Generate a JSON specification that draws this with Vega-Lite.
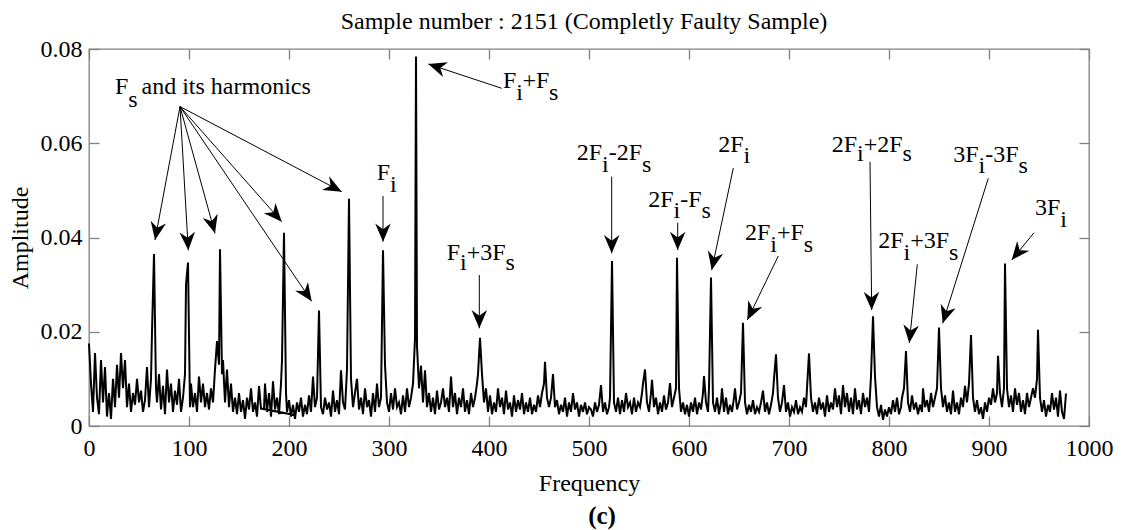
{
"$schema": "https://vega.github.io/schema/vega-lite/v6.json",
"width": 1000, "height": 377,
"autosize": "none",
"padding": {"left": 89, "top": 49, "right": 35, "bottom": 104},
"background": "white",
"config": {
  "font": "Liberation Serif",
  "view": {"stroke": "#808080", "strokeWidth": 1.3},
  "axis": {"grid": false, "domain": false, "tickColor": "#808080", "tickWidth": 1.3, "tickSize": -10,
           "labelFont": "Liberation Serif", "labelFontSize": 24, "labelColor": "black", "labelOverlap": false,
           "titleFont": "Liberation Serif", "titleFontSize": 24, "titleFontWeight": "normal", "titleColor": "black"}
},
"datasets": {
 "arrows": [
  {"x": 91, "y": 0.06778, "x2": 66, "y2": 0.03947},
  {"x": 91, "y": 0.06778, "x2": 99.3, "y2": 0.03729},
  {"x": 91, "y": 0.06778, "x2": 126, "y2": 0.04088},
  {"x": 91, "y": 0.06778, "x2": 192.7, "y2": 0.04336},
  {"x": 91, "y": 0.06778, "x2": 222.7, "y2": 0.02645},
  {"x": 91, "y": 0.06778, "x2": 252.7, "y2": 0.04973},
  {"x": 294, "y": 0.04881, "x2": 294, "y2": 0.03911},
  {"x": 412.7, "y": 0.07166, "x2": 339.3, "y2": 0.07682},
  {"x": 390.3, "y": 0.03204, "x2": 390.3, "y2": 0.02073},
  {"x": 522.7, "y": 0.0529, "x2": 522.7, "y2": 0.03665},
  {"x": 588.7, "y": 0.04315, "x2": 588.7, "y2": 0.03735},
  {"x": 644.3, "y": 0.05472, "x2": 622.7, "y2": 0.0331},
  {"x": 689.3, "y": 0.03608, "x2": 658.3, "y2": 0.02249},
  {"x": 781, "y": 0.05608, "x2": 782.7, "y2": 0.02461},
  {"x": 828.3, "y": 0.0343, "x2": 820.3, "y2": 0.01761},
  {"x": 899.3, "y": 0.05256, "x2": 853.7, "y2": 0.02179},
  {"x": 945, "y": 0.04102, "x2": 922.7, "y2": 0.03522}
 ],
 "labels": [
  {"x": 26, "y": 0.07054, "t": "F"}, {"x": 39.3, "y": 0.06763, "t": "s"}, {"x": 52.5, "y": 0.07054, "t": "and its harmonics"},
  {"x": 287.7, "y": 0.0522, "t": "F"}, {"x": 301, "y": 0.04972, "t": "i"},
  {"x": 414, "y": 0.07166, "t": "F"}, {"x": 427.3, "y": 0.06918, "t": "i"}, {"x": 433.5, "y": 0.07166, "t": "+F"}, {"x": 460, "y": 0.06918, "t": "s"},
  {"x": 357.7, "y": 0.03523, "t": "F"}, {"x": 371, "y": 0.0331, "t": "i"}, {"x": 377.7, "y": 0.03523, "t": "+3F"}, {"x": 416.5, "y": 0.0331, "t": "s"},
  {"x": 487.7, "y": 0.05645, "t": "2F"}, {"x": 513, "y": 0.05396, "t": "i"}, {"x": 519.7, "y": 0.05645, "t": "-2F"}, {"x": 553, "y": 0.05396, "t": "s"},
  {"x": 559.3, "y": 0.04654, "t": "2F"}, {"x": 584.6, "y": 0.04414, "t": "i"}, {"x": 591.3, "y": 0.04654, "t": "-F"}, {"x": 612.6, "y": 0.04414, "t": "s"},
  {"x": 629.3, "y": 0.05821, "t": "2F"}, {"x": 654.6, "y": 0.05575, "t": "i"},
  {"x": 656, "y": 0.03947, "t": "2F"}, {"x": 681.3, "y": 0.03699, "t": "i"}, {"x": 688, "y": 0.03947, "t": "+F"}, {"x": 714.8, "y": 0.03699, "t": "s"},
  {"x": 742.7, "y": 0.05821, "t": "2F"}, {"x": 768, "y": 0.05623, "t": "i"}, {"x": 774.7, "y": 0.05821, "t": "+2F"}, {"x": 813.5, "y": 0.05623, "t": "s"},
  {"x": 789.3, "y": 0.03771, "t": "2F"}, {"x": 814.6, "y": 0.03523, "t": "i"}, {"x": 821.3, "y": 0.03771, "t": "+3F"}, {"x": 860, "y": 0.03523, "t": "s"},
  {"x": 864.3, "y": 0.05609, "t": "3F"}, {"x": 889.6, "y": 0.05362, "t": "i"}, {"x": 896.3, "y": 0.05609, "t": "-3F"}, {"x": 929.6, "y": 0.05362, "t": "s"},
  {"x": 946, "y": 0.04477, "t": "3F"}, {"x": 971.3, "y": 0.04229, "t": "i"}
 ]
},
"layer": [
 {
  "data": {"values": [
{"f":0,"a":0.0175},{"f":2,"a":0.009},{"f":4,"a":0.003},{"f":6,"a":0.0155},{"f":8,"a":0.006},{"f":10,"a":0.0025},{"f":12,"a":0.014},{"f":14,"a":0.005},{"f":16,"a":0.0125},{"f":18,"a":0.002},
{"f":20,"a":0.007},{"f":22,"a":0.0015},{"f":24,"a":0.010},{"f":26,"a":0.004},{"f":28,"a":0.013},{"f":30,"a":0.006},{"f":32,"a":0.0155},{"f":34,"a":0.008},{"f":36,"a":0.014},{"f":38,"a":0.004},
{"f":40,"a":0.009},{"f":42,"a":0.003},{"f":44,"a":0.007},{"f":46,"a":0.0045},{"f":48,"a":0.010},{"f":50,"a":0.005},{"f":52,"a":0.0075},{"f":54,"a":0.003},{"f":56,"a":0.0055},{"f":58,"a":0.0125},
{"f":60,"a":0.004},{"f":62,"a":0.010},{"f":63,"a":0.020},{"f":65,"a":0.0365},{"f":67,"a":0.008},{"f":68,"a":0.005},{"f":70,"a":0.011},{"f":72,"a":0.0035},{"f":74,"a":0.0085},{"f":76,"a":0.0025},
{"f":78,"a":0.012},{"f":80,"a":0.005},{"f":82,"a":0.009},{"f":84,"a":0.003},{"f":86,"a":0.0075},{"f":88,"a":0.0045},{"f":90,"a":0.010},{"f":92,"a":0.003},{"f":94,"a":0.006},{"f":96,"a":0.011},
{"f":97,"a":0.030},{"f":99,"a":0.0347},{"f":101,"a":0.004},{"f":102,"a":0.009},{"f":104,"a":0.004},{"f":106,"a":0.007},{"f":108,"a":0.003},{"f":110,"a":0.0105},{"f":112,"a":0.005},{"f":114,"a":0.009},
{"f":116,"a":0.004},{"f":118,"a":0.007},{"f":120,"a":0.0035},{"f":122,"a":0.008},{"f":124,"a":0.005},{"f":126,"a":0.012},{"f":128,"a":0.018},{"f":130,"a":0.013},{"f":131,"a":0.0375},{"f":133,"a":0.011},
{"f":134,"a":0.014},{"f":136,"a":0.005},{"f":138,"a":0.012},{"f":140,"a":0.004},{"f":142,"a":0.009},{"f":144,"a":0.003},{"f":146,"a":0.006},{"f":148,"a":0.0025},{"f":150,"a":0.007},{"f":152,"a":0.003},
{"f":154,"a":0.0055},{"f":156,"a":0.0015},{"f":158,"a":0.006},{"f":160,"a":0.0035},{"f":162,"a":0.008},{"f":164,"a":0.003},{"f":166,"a":0.005},{"f":168,"a":0.002},{"f":170,"a":0.0085},{"f":172,"a":0.0037},
{"f":207,"a":0.0023},{"f":175,"a":0.0036},
{"f":176,"a":0.009},{"f":178,"a":0.003},{"f":180,"a":0.007},{"f":182,"a":0.002},{"f":184,"a":0.0095},{"f":186,"a":0.0035},{"f":188,"a":0.006},{"f":190,"a":0.0025},{"f":192,"a":0.009},{"f":193,"a":0.014},
{"f":195,"a":0.041},{"f":197,"a":0.007},{"f":198,"a":0.003},{"f":200,"a":0.0055},{"f":202,"a":0.002},{"f":204,"a":0.0045},{"f":206,"a":0.0015},{"f":208,"a":0.005},{"f":210,"a":0.003},{"f":212,"a":0.006},
{"f":214,"a":0.002},{"f":216,"a":0.0045},{"f":218,"a":0.0025},{"f":220,"a":0.0065},{"f":222,"a":0.003},{"f":224,"a":0.0105},{"f":226,"a":0.004},{"f":228,"a":0.006},{"f":230,"a":0.0245},{"f":232,"a":0.004},
{"f":234,"a":0.0025},{"f":236,"a":0.006},{"f":238,"a":0.0035},{"f":240,"a":0.005},{"f":242,"a":0.002},{"f":244,"a":0.0075},{"f":246,"a":0.003},{"f":248,"a":0.0055},{"f":250,"a":0.0025},{"f":252,"a":0.0118},
{"f":254,"a":0.005},{"f":256,"a":0.0035},{"f":258,"a":0.012},{"f":260,"a":0.0482},{"f":262,"a":0.010},{"f":264,"a":0.004},{"f":266,"a":0.007},{"f":268,"a":0.010},{"f":270,"a":0.0035},{"f":272,"a":0.006},
{"f":274,"a":0.0025},{"f":276,"a":0.008},{"f":278,"a":0.004},{"f":280,"a":0.0055},{"f":282,"a":0.002},{"f":284,"a":0.007},{"f":286,"a":0.003},{"f":288,"a":0.009},{"f":290,"a":0.004},{"f":292,"a":0.006},
{"f":294,"a":0.0373},{"f":296,"a":0.013},{"f":298,"a":0.005},{"f":300,"a":0.003},{"f":302,"a":0.007},{"f":304,"a":0.0035},{"f":306,"a":0.008},{"f":308,"a":0.004},{"f":310,"a":0.005},{"f":312,"a":0.0025},
{"f":314,"a":0.0065},{"f":316,"a":0.003},{"f":318,"a":0.008},{"f":320,"a":0.004},{"f":322,"a":0.006},{"f":324,"a":0.009},{"f":326,"a":0.0185},{"f":327,"a":0.0784},{"f":328,"a":0.017},{"f":330,"a":0.008},
{"f":332,"a":0.0128},{"f":334,"a":0.005},{"f":336,"a":0.0118},{"f":338,"a":0.004},{"f":340,"a":0.007},{"f":342,"a":0.003},{"f":344,"a":0.006},{"f":346,"a":0.0025},{"f":348,"a":0.0075},{"f":350,"a":0.0035},
{"f":352,"a":0.005},{"f":354,"a":0.008},{"f":356,"a":0.004},{"f":358,"a":0.006},{"f":360,"a":0.003},{"f":362,"a":0.0105},{"f":364,"a":0.004},{"f":366,"a":0.007},{"f":368,"a":0.0025},{"f":370,"a":0.006},
{"f":372,"a":0.004},{"f":374,"a":0.008},{"f":376,"a":0.003},{"f":378,"a":0.0055},{"f":380,"a":0.0025},{"f":382,"a":0.007},{"f":384,"a":0.004},{"f":386,"a":0.006},{"f":388,"a":0.009},{"f":389,"a":0.011},
{"f":391,"a":0.0187},{"f":393,"a":0.011},{"f":395,"a":0.005},{"f":397,"a":0.008},{"f":399,"a":0.003},{"f":401,"a":0.0065},{"f":403,"a":0.0025},{"f":405,"a":0.005},{"f":407,"a":0.003},{"f":409,"a":0.008},
{"f":411,"a":0.004},{"f":413,"a":0.006},{"f":415,"a":0.0025},{"f":417,"a":0.0075},{"f":419,"a":0.0035},{"f":421,"a":0.005},{"f":423,"a":0.002},{"f":425,"a":0.0065},{"f":427,"a":0.003},{"f":429,"a":0.0055},
{"f":431,"a":0.0035},{"f":433,"a":0.007},{"f":435,"a":0.0025},{"f":437,"a":0.005},{"f":439,"a":0.003},{"f":441,"a":0.006},{"f":443,"a":0.0025},{"f":445,"a":0.0045},{"f":447,"a":0.003},{"f":449,"a":0.0065},
{"f":451,"a":0.004},{"f":453,"a":0.007},{"f":455,"a":0.009},{"f":456,"a":0.0136},{"f":458,"a":0.006},{"f":460,"a":0.004},{"f":462,"a":0.006},{"f":464,"a":0.011},{"f":466,"a":0.004},{"f":468,"a":0.0055},
{"f":470,"a":0.0025},{"f":472,"a":0.0045},{"f":474,"a":0.003},{"f":476,"a":0.006},{"f":478,"a":0.002},{"f":480,"a":0.005},{"f":482,"a":0.003},{"f":484,"a":0.007},{"f":486,"a":0.0035},{"f":488,"a":0.005},
{"f":490,"a":0.002},{"f":492,"a":0.0045},{"f":494,"a":0.003},{"f":496,"a":0.005},{"f":498,"a":0.0025},{"f":500,"a":0.004},{"f":502,"a":0.0035},{"f":504,"a":0.002},{"f":506,"a":0.005},{"f":508,"a":0.003},
{"f":510,"a":0.0045},{"f":512,"a":0.0087},{"f":514,"a":0.003},{"f":516,"a":0.005},{"f":518,"a":0.0025},{"f":520,"a":0.004},{"f":521,"a":0.006},{"f":523,"a":0.035},{"f":525,"a":0.005},{"f":527,"a":0.003},
{"f":529,"a":0.006},{"f":531,"a":0.0025},{"f":533,"a":0.0055},{"f":535,"a":0.003},{"f":537,"a":0.007},{"f":539,"a":0.004},{"f":541,"a":0.005},{"f":543,"a":0.0025},{"f":545,"a":0.006},{"f":547,"a":0.003},
{"f":549,"a":0.005},{"f":551,"a":0.004},{"f":553,"a":0.007},{"f":554,"a":0.009},{"f":556,"a":0.012},{"f":558,"a":0.005},{"f":560,"a":0.003},{"f":562,"a":0.007},{"f":563,"a":0.0098},{"f":565,"a":0.004},
{"f":567,"a":0.006},{"f":569,"a":0.0025},{"f":571,"a":0.005},{"f":573,"a":0.003},{"f":575,"a":0.0065},{"f":577,"a":0.0035},{"f":579,"a":0.005},{"f":581,"a":0.0091},{"f":583,"a":0.004},{"f":585,"a":0.006},
{"f":587,"a":0.008},{"f":588,"a":0.0357},{"f":590,"a":0.008},{"f":592,"a":0.003},{"f":594,"a":0.005},{"f":596,"a":0.0025},{"f":598,"a":0.0045},{"f":600,"a":0.002},{"f":602,"a":0.005},{"f":604,"a":0.003},
{"f":606,"a":0.006},{"f":608,"a":0.0025},{"f":610,"a":0.005},{"f":612,"a":0.0035},{"f":614,"a":0.007},{"f":615,"a":0.0106},{"f":617,"a":0.005},{"f":619,"a":0.003},{"f":620,"a":0.008},{"f":622,"a":0.0315},
{"f":624,"a":0.005},{"f":626,"a":0.003},{"f":628,"a":0.006},{"f":630,"a":0.0025},{"f":632,"a":0.005},{"f":633,"a":0.008},{"f":635,"a":0.003},{"f":637,"a":0.006},{"f":639,"a":0.0025},{"f":641,"a":0.0045},
{"f":643,"a":0.003},{"f":645,"a":0.006},{"f":646,"a":0.008},{"f":648,"a":0.0035},{"f":650,"a":0.005},{"f":652,"a":0.007},{"f":654,"a":0.0219},{"f":656,"a":0.005},{"f":658,"a":0.0025},{"f":660,"a":0.0045},
{"f":662,"a":0.003},{"f":664,"a":0.0055},{"f":666,"a":0.0025},{"f":668,"a":0.004},{"f":670,"a":0.003},{"f":672,"a":0.005},{"f":674,"a":0.0075},{"f":676,"a":0.003},{"f":678,"a":0.005},{"f":680,"a":0.0025},
{"f":682,"a":0.0045},{"f":684,"a":0.007},{"f":685,"a":0.010},{"f":687,"a":0.0152},{"f":689,"a":0.006},{"f":691,"a":0.003},{"f":693,"a":0.005},{"f":695,"a":0.0087},{"f":697,"a":0.003},{"f":699,"a":0.005},
{"f":701,"a":0.002},{"f":703,"a":0.004},{"f":705,"a":0.003},{"f":707,"a":0.0055},{"f":709,"a":0.0025},{"f":711,"a":0.004},{"f":713,"a":0.003},{"f":715,"a":0.006},{"f":717,"a":0.004},{"f":718,"a":0.008},
{"f":720,"a":0.0154},{"f":722,"a":0.006},{"f":724,"a":0.003},{"f":726,"a":0.005},{"f":728,"a":0.0025},{"f":730,"a":0.006},{"f":732,"a":0.0035},{"f":734,"a":0.005},{"f":736,"a":0.002},{"f":738,"a":0.0065},
{"f":740,"a":0.003},{"f":742,"a":0.005},{"f":744,"a":0.0035},{"f":746,"a":0.008},{"f":748,"a":0.004},{"f":750,"a":0.0065},{"f":752,"a":0.0025},{"f":754,"a":0.0087},{"f":756,"a":0.004},{"f":758,"a":0.007},
{"f":760,"a":0.003},{"f":762,"a":0.006},{"f":764,"a":0.0025},{"f":766,"a":0.008},{"f":768,"a":0.0035},{"f":770,"a":0.0055},{"f":772,"a":0.0025},{"f":774,"a":0.007},{"f":776,"a":0.004},{"f":778,"a":0.006},
{"f":780,"a":0.003},{"f":782,"a":0.0105},{"f":784,"a":0.0233},{"f":786,"a":0.0105},{"f":788,"a":0.004},{"f":790,"a":0.002},{"f":792,"a":0.0045},{"f":794,"a":0.0013},{"f":796,"a":0.0035},{"f":798,"a":0.002},
{"f":800,"a":0.004},{"f":802,"a":0.0025},{"f":804,"a":0.0055},{"f":806,"a":0.003},{"f":808,"a":0.006},{"f":810,"a":0.0025},{"f":812,"a":0.004},{"f":813,"a":0.006},{"f":815,"a":0.008},{"f":817,"a":0.0159},
{"f":819,"a":0.005},{"f":821,"a":0.003},{"f":823,"a":0.0065},{"f":825,"a":0.0035},{"f":827,"a":0.005},{"f":829,"a":0.0025},{"f":831,"a":0.0045},{"f":833,"a":0.003},{"f":834,"a":0.008},{"f":836,"a":0.004},
{"f":838,"a":0.0055},{"f":840,"a":0.003},{"f":842,"a":0.007},{"f":844,"a":0.004},{"f":846,"a":0.006},{"f":848,"a":0.008},{"f":850,"a":0.0209},{"f":852,"a":0.008},{"f":854,"a":0.004},{"f":856,"a":0.0065},
{"f":858,"a":0.003},{"f":860,"a":0.005},{"f":862,"a":0.0025},{"f":864,"a":0.0075},{"f":866,"a":0.003},{"f":868,"a":0.005},{"f":870,"a":0.0025},{"f":872,"a":0.006},{"f":874,"a":0.004},{"f":876,"a":0.0085},
{"f":878,"a":0.005},{"f":880,"a":0.009},{"f":882,"a":0.0193},{"f":884,"a":0.006},{"f":886,"a":0.003},{"f":888,"a":0.0055},{"f":890,"a":0.0025},{"f":892,"a":0.004},{"f":894,"a":0.0015},{"f":896,"a":0.005},
{"f":898,"a":0.003},{"f":900,"a":0.006},{"f":902,"a":0.0045},{"f":904,"a":0.008},{"f":906,"a":0.005},{"f":908,"a":0.007},{"f":909,"a":0.0149},{"f":911,"a":0.007},{"f":913,"a":0.004},{"f":915,"a":0.008},
{"f":916,"a":0.0345},{"f":918,"a":0.008},{"f":920,"a":0.004},{"f":922,"a":0.0065},{"f":924,"a":0.003},{"f":926,"a":0.008},{"f":928,"a":0.0045},{"f":930,"a":0.007},{"f":932,"a":0.003},{"f":934,"a":0.0055},
{"f":936,"a":0.0025},{"f":938,"a":0.007},{"f":940,"a":0.004},{"f":942,"a":0.006},{"f":944,"a":0.008},{"f":946,"a":0.006},{"f":948,"a":0.010},{"f":949,"a":0.0204},{"f":951,"a":0.006},{"f":953,"a":0.003},
{"f":955,"a":0.0055},{"f":957,"a":0.002},{"f":959,"a":0.0045},{"f":961,"a":0.003},{"f":963,"a":0.007},{"f":965,"a":0.0035},{"f":967,"a":0.006},{"f":969,"a":0.002},{"f":971,"a":0.0075},{"f":973,"a":0.003},
{"f":975,"a":0.0015},{"f":977,"a":0.0069}
  ]},
  "mark": {"type": "line", "color": "black", "strokeWidth": 2},
  "encoding": {
   "x": {"field": "f", "type": "quantitative", "scale": {"domain": [0, 1000], "nice": false, "zero": false},
         "axis": {"orient": "bottom", "values": [0,100,200,300,400,500,600,700,800,900,1000], "format": "d", "title": "Frequency", "labelPadding": 20, "labelFlush": false, "titleY": 64.7, "titleBaseline": "alphabetic"}},
   "y": {"field": "a", "type": "quantitative", "scale": {"domain": [0, 0.08], "nice": false, "zero": false},
         "axis": {"orient": "left", "values": [0,0.02,0.04,0.06,0.08], "format": ".2~f", "title": "Amplitude", "labelPadding": 17, "titleX": -62, "titleBaseline": "alphabetic"}},
   "order": {"value": null}
  }
 },
 {
  "data": {"name": "arrows"},
  "mark": {"type": "rule", "color": "black", "strokeWidth": 1},
  "encoding": {
   "x": {"field": "x", "type": "quantitative", "scale": {"domain": [0, 1000], "nice": false, "zero": false},
         "axis": {"orient": "top", "labels": false, "title": null, "values": [0,100,200,300,400,500,600,700,800,900,1000]}},
   "y": {"field": "y", "type": "quantitative", "scale": {"domain": [0, 0.08], "nice": false, "zero": false},
         "axis": {"orient": "right", "labels": false, "title": null, "values": [0,0.02,0.04,0.06,0.08]}},
   "x2": {"field": "x2"},
   "y2": {"field": "y2"}
  }
 },
 {
  "data": {"name": "arrows"},
  "transform": [{"calculate": "atan2(datum.x2 - datum.x, (datum.y2 - datum.y) * 4712.5) * 180 / PI", "as": "ang"}],
  "mark": {"type": "point", "shape": "M0,0L0.9,2.1L0,1.45L-0.9,2.1Z", "filled": true, "color": "black", "opacity": 1, "size": 300, "strokeWidth": 0},
  "encoding": {
   "x": {"field": "x2", "type": "quantitative", "scale": {"domain": [0, 1000], "nice": false, "zero": false}, "axis": null},
   "y": {"field": "y2", "type": "quantitative", "scale": {"domain": [0, 0.08], "nice": false, "zero": false}, "axis": null},
   "angle": {"field": "ang", "type": "quantitative", "scale": null}
  }
 },
 {
  "data": {"name": "labels"},
  "mark": {"type": "text", "align": "left", "baseline": "alphabetic", "font": "Liberation Serif", "fontSize": 24, "color": "black"},
  "encoding": {
   "x": {"field": "x", "type": "quantitative", "scale": {"domain": [0, 1000], "nice": false, "zero": false}, "axis": null},
   "y": {"field": "y", "type": "quantitative", "scale": {"domain": [0, 0.08], "nice": false, "zero": false}, "axis": null},
   "text": {"field": "t"}
  }
 },
 {
  "data": {"values": [{"x": 495, "y": 0.08424, "t": "Sample number : 2151 (Completly Faulty Sample)"}]},
  "mark": {"type": "text", "align": "center", "baseline": "alphabetic", "font": "Liberation Serif", "fontSize": 24, "color": "black"},
  "encoding": {
   "x": {"field": "x", "type": "quantitative", "scale": {"domain": [0, 1000], "nice": false, "zero": false}, "axis": null},
   "y": {"field": "y", "type": "quantitative", "scale": {"domain": [0, 0.08], "nice": false, "zero": false}, "axis": null},
   "text": {"field": "t"}
  }
 },
 {
  "data": {"values": [{"x": 513, "y": -0.0208, "t": "(c)"}]},
  "mark": {"type": "text", "align": "center", "baseline": "alphabetic", "font": "Liberation Serif", "fontSize": 25, "fontWeight": "bold", "color": "black"},
  "encoding": {
   "x": {"field": "x", "type": "quantitative", "scale": {"domain": [0, 1000], "nice": false, "zero": false}, "axis": null},
   "y": {"field": "y", "type": "quantitative", "scale": {"domain": [0, 0.08], "nice": false, "zero": false}, "axis": null},
   "text": {"field": "t"}
  }
 }
],
"resolve": {"axis": {"x": "independent", "y": "independent"}}
}
